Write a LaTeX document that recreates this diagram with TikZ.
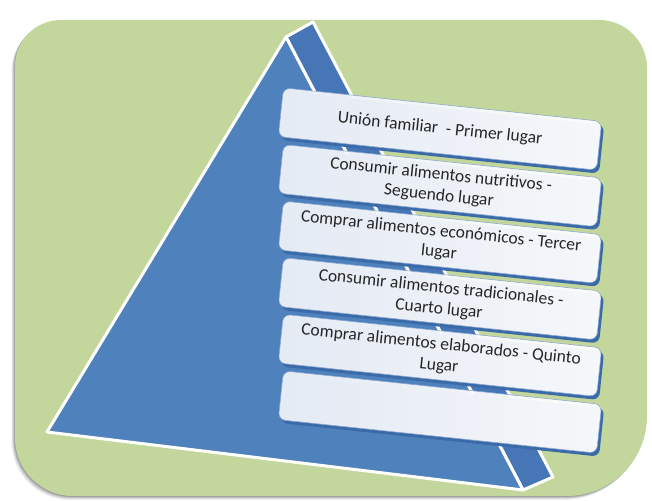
\documentclass[tikz,border=0pt]{standalone}
\usepackage{fontspec}
\setmainfont{Carlito}
\definecolor{panelgreen}{HTML}{C3D69B}
\definecolor{frontblue}{HTML}{4F81BD}
\definecolor{sideblue}{HTML}{4676B6}
\definecolor{rimblue}{HTML}{3B6AA8}
\definecolor{boxleft}{HTML}{EEF2F9}
\definecolor{boxright}{HTML}{FFFFFF}
\definecolor{boxedge}{HTML}{8EA9CF}
\begin{document}
\begin{tikzpicture}[x=1pt,y=-1pt,
  face/.style={draw=white, line width=3pt, line join=round},
  lvl/.style={rectangle, rounded corners=7pt, minimum width=320pt,
    minimum height=49pt, rotate=-6, inner sep=0pt, align=center,
    font=\fontsize{17.5}{21}\selectfont, text=black!85},
  lvlbox/.style={lvl, draw=boxedge, line width=0.6pt,
    left color=boxleft, right color=boxright,
    fill opacity=0.95, text opacity=1},
  lvlrim/.style={lvl, fill=rimblue},
]
\useasboundingbox (0,0) rectangle (652,500);

% rounded green panel with a soft shadow on its lower left
\def\panel{(15,250) [rounded corners=46pt] -- (15,20) -- (330,20)
  [rounded corners=48pt] -- (647,20) -- (647,250)
  [rounded corners=80pt] -- (647,496) -- (330,496)
  [rounded corners=58pt] -- (15,496) -- cycle}
\foreach \d/\o in {5/0.05,4/0.07,3/0.09,2/0.11,1/0.13}
  \fill[black, opacity=\o, shift={(-0.7*\d,0.8*\d)}] \panel;
\fill[panelgreen] \panel;

% pyramid: narrow side face and large front face
\coordinate (apex) at (286,37);
\coordinate (top)  at (313,22);
\coordinate (bl)   at (47,432);
\coordinate (br)   at (523,490);
\coordinate (bb)   at (553,477);
\filldraw[face, fill=sideblue] (apex) -- (top) -- (bb) -- (br) -- cycle;
\filldraw[face, fill=frontblue] (apex) -- (bl) -- (br) -- cycle;

% levels: blue rim behind each translucent box
\foreach \i in {0,...,5}
  \node[lvlrim] (rim\i) at (442.5, 132.5+56.6*\i) {};

\node[lvlbox] (l1) at (440,129.0) {Unión familiar\ \ - Primer lugar};
\node[lvlbox] (l2) at (440,185.6) {Consumir alimentos nutritivos -\\Seguendo lugar};
\node[lvlbox] (l3) at (440,242.2) {Comprar alimentos económicos - Tercer\\lugar};
\node[lvlbox] (l4) at (440,298.8) {Consumir alimentos tradicionales -\\Cuarto lugar};
\node[lvlbox] (l5) at (440,355.4) {Comprar alimentos elaborados - Quinto\\Lugar};
\node[lvlbox] (l6) at (440,412.0) {};
\end{tikzpicture}
\end{document}
